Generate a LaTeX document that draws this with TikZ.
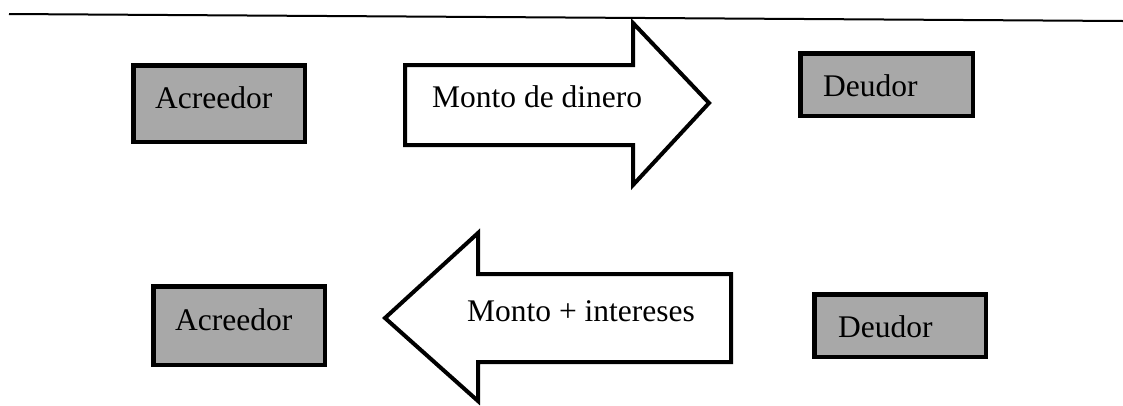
\documentclass[tikz,border=0pt]{standalone}
\usepackage{fontspec}
\setmainfont{Liberation Serif}
\definecolor{boxgray}{RGB}{168,168,168}
\tikzset{
  party/.style={draw=black, line width=4.5pt, fill=boxgray, rectangle, inner sep=0pt},
  partytext/.style={anchor=base west, inner sep=0pt, font=\fontsize{31.5}{36}\selectfont},
  flowshape/.style={draw=black, line width=4pt, fill=white, line join=miter},
  flowtext/.style={anchor=base west, inner sep=0pt, font=\fontsize{31.5}{36}\selectfont},
  rule/.style={draw=black, line width=2pt}
}
\begin{document}
\begin{tikzpicture}[x=1pt,y=-1pt]
\useasboundingbox (0,0) rectangle (1123,405);
% top rule
\coordinate (r1) at (9,14);
\coordinate (r2) at (1123,21);
\draw[rule] (r1) -- (r2);
% boxes
\node[party, minimum width=171.5pt, minimum height=76.5pt] (a1) at (219,103.5) {};
\node[party, minimum width=172.5pt, minimum height=62.5pt] (d1) at (886.5,84.5) {};
\node[party, minimum width=171.5pt, minimum height=78.5pt] (a2) at (239,325.5) {};
\node[party, minimum width=171.5pt, minimum height=62.5pt] (d2) at (900,325.5) {};
\node[partytext] (ta1) at (155,108) {Acreedor};
\node[partytext] (td1) at (823,96) {Deudor};
\node[partytext] (ta2) at (175,330) {Acreedor};
\node[partytext] (td2) at (838,337) {Deudor};
% top arrow (right)
\draw[flowshape] (405,65) -- (633,65) -- (633,23) -- (709,103) -- (633,185) -- (633,145) -- (405,145) -- cycle;
\node[flowtext] (f1) at (432,107) {Monto de dinero};
% bottom arrow (left)
\draw[flowshape] (385,318) -- (478,233) -- (478,274) -- (731,274) -- (731,362) -- (478,362) -- (478,401) -- cycle;
\node[flowtext] (f2) at (467,321) {Monto + intereses};
\end{tikzpicture}
\end{document}
